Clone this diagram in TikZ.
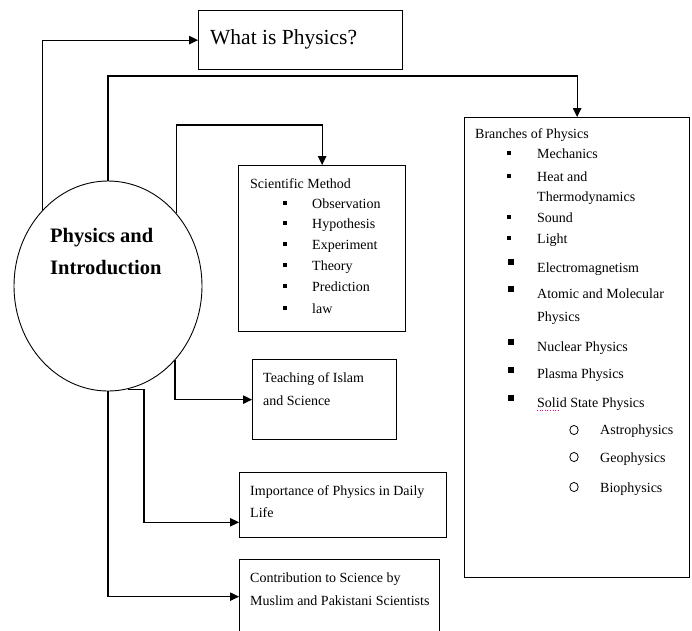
\documentclass[tikz,border=0pt]{standalone}
\usepackage{fontspec}
\setmainfont{Liberation Serif}
\usetikzlibrary{arrows.meta,shapes.geometric,calc}

\tikzset{
  box/.style={draw, line width=1.3pt, anchor=north west, inner sep=0pt},
  conn/.style={line width=1.1pt, -{Triangle[length=9pt,width=8.5pt]}},
  txt/.style={anchor=base west, inner sep=0pt, font=\fontsize{14}{16}\selectfont},
  bigtxt/.style={anchor=base west, inner sep=0pt, font=\fontsize{21.5}{24}\selectfont},
  hubtxt/.style={anchor=base west, inner sep=0pt, font=\fontsize{20.5}{24}\selectfont\bfseries},
}
\newcommand{\sbul}[2]{\fill (#1-1.6,#2-1.8) rectangle (#1+1.6,#2+1.8);}
\newcommand{\bbul}[2]{\fill (#1-3,#2-3.2) rectangle (#1+3,#2+3.2);}

\begin{document}
\begin{tikzpicture}[x=1pt,y=-1pt]
\useasboundingbox (0,0) rectangle (692,630);
\clip (0,0) rectangle (692,630);

% central topic
\node[draw, ellipse, line width=0.9pt, minimum width=188pt, minimum height=210pt, inner sep=0pt] (intro) at (108,286) {};
\node[hubtxt] (introA) at (50,242) {Physics and};
\node[hubtxt] (introB) at (50,274) {Introduction};

% boxes
\node[box, minimum width=204pt, minimum height=59pt] (what) at (198,10) {};
\node[bigtxt] (whatT) at (210,44) {What is Physics?};

\node[box, minimum width=167pt, minimum height=166pt] (sci) at (238,165) {};
\node[box, minimum width=225pt, minimum height=460pt] (br) at (464,117) {};
\node[box, minimum width=144pt, minimum height=80pt] (isl) at (252,359) {};
\node[box, minimum width=207pt, minimum height=65pt] (imp) at (239,472) {};
\node[box, minimum width=200pt, minimum height=74pt] (con) at (239,559) {};

% connectors
\draw[conn] (intro.131.4) |- (what.west);
\draw[conn] (intro.north) -- (intro.north |- 0,76) -| (br.north);
\draw[conn] (intro.47.7) -- (intro.47.7 |- 0,125) -| (sci.north);
\draw[conn] (intro.312.3) |- (isl.west);
\coordinate (impin) at ($(imp.south west)+(0,-16)$);
\draw[conn] (intro.281) -- ++(16,0) |- (impin);
\draw[conn] (intro.south) |- (con.west);

% scientific method
\node[txt] (sciT) at (250,188) {Scientific Method};
\node[txt] (s1) at (312,208) {Observation};
\node[txt] (s2) at (312,228) {Hypothesis};
\node[txt] (s3) at (312,249) {Experiment};
\node[txt] (s4) at (312,270) {Theory};
\node[txt] (s5) at (312,291) {Prediction};
\node[txt] (s6) at (312,313) {law};
\sbul{285}{203}\sbul{285}{223}\sbul{285}{244}\sbul{285}{265}\sbul{285}{286}\sbul{285}{308}

% branches of physics
\node[txt] (brT) at (475,138) {Branches of Physics};
\node[txt] (b1) at (537,158) {Mechanics};
\node[txt] (b2) at (537,181) {Heat and};
\node[txt] (b2b) at (537,201) {Thermodynamics};
\node[txt] (b3) at (537,222) {Sound};
\node[txt] (b4) at (537,243) {Light};
\node[txt] (b5) at (537,272) {Electromagnetism};
\node[txt] (b6) at (537,298) {Atomic and Molecular};
\node[txt] (b6b) at (537,321) {Physics};
\node[txt] (b7) at (537,351) {Nuclear Physics};
\node[txt] (b8) at (537,378) {Plasma Physics};
\node[txt] (b9) at (537,407) {Solid State Physics};
\node[txt] (c1) at (600,434) {Astrophysics};
\node[txt] (c2) at (600,462) {Geophysics};
\node[txt] (c3) at (600,492) {Biophysics};
\sbul{509}{153}\sbul{509}{176}\sbul{509}{217}\sbul{509}{238}
\bbul{511}{262}\bbul{511}{289}\bbul{511}{342}\bbul{511}{370}\bbul{511}{398}
\foreach \yy in {430,457,487} \draw[line width=0.8pt] (574,\yy) ellipse (4.2pt and 4.6pt);
\draw[magenta, line width=0.6pt, dotted] (537,410) -- (560,410);

% remaining topics
\node[txt] (i1) at (263,382) {Teaching of Islam};
\node[txt] (i2) at (263,405) {and Science};
\node[txt] (p1) at (250,495) {Importance of Physics in Daily};
\node[txt] (p2) at (250,517) {Life};
\node[txt] (k1) at (250,582) {Contribution to Science by};
\node[txt] (k2) at (250,605) {Muslim and Pakistani Scientists};
\end{tikzpicture}
\end{document}
